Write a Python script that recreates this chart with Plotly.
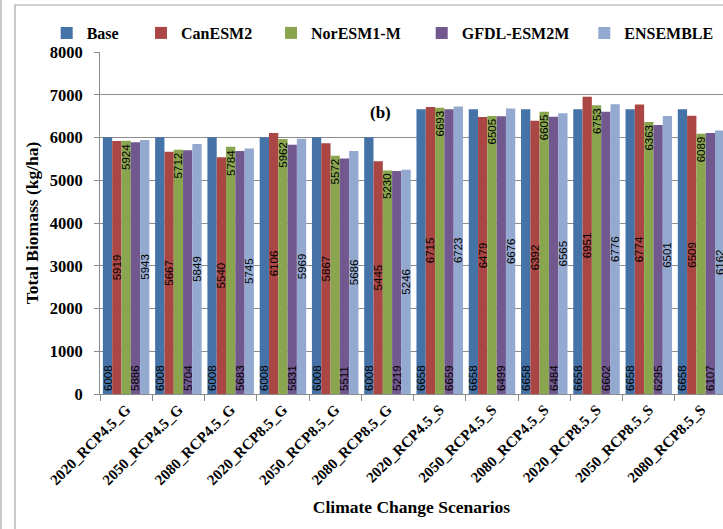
import plotly.graph_objects as go

# Scenario groups along the x axis
categories = [
    "2020_RCP4.5_G", "2050_RCP4.5_G", "2080_RCP4.5_G",
    "2020_RCP8.5_G", "2050_RCP8.5_G", "2080_RCP8.5_G",
    "2020_RCP4.5_S", "2050_RCP4.5_S", "2080_RCP4.5_S",
    "2020_RCP8.5_S", "2050_RCP8.5_S", "2080_RCP8.5_S",
]

# Total biomass (kg/ha) per model
base = [6008, 6008, 6008, 6008, 6008, 6008, 6658, 6658, 6658, 6658, 6658, 6658]
canesm2 = [5919, 5667, 5540, 6106, 5867, 5445, 6715, 6479, 6392, 6951, 6774, 6509]
noresm1_m = [5924, 5712, 5784, 5962, 5572, 5230, 6693, 6505, 6605, 6753, 6363, 6089]
gfdl_esm2m = [5886, 5704, 5683, 5831, 5511, 5219, 6659, 6499, 6484, 6602, 6295, 6107]
ensemble = [5943, 5849, 5745, 5969, 5686, 5246, 6723, 6676, 6565, 6776, 6501, 6162]

y_ticks = [0, 1000, 2000, 3000, 4000, 5000, 6000, 7000, 8000]

series = [
    ("Base", base, "#4572A7", "start", "legend"),
    ("CanESM2", canesm2, "#AA4643", "middle", "legend2"),
    ("NorESM1-M", noresm1_m, "#89A54E", "end", "legend3"),
    ("GFDL-ESM2M", gfdl_esm2m, "#71588F", "start", "legend4"),
    ("ENSEMBLE", ensemble, "#93A9CF", "middle", "legend5"),
]

SERIF = "Liberation Serif"
GRID = "#8C8C8C"

fig = go.Figure()
for name, vals, color, anchor, leg in series:
    fig.add_trace(go.Bar(
        name=name,
        x=categories,
        y=vals,
        marker=dict(color=color, line=dict(width=0)),
        text=[str(v) for v in vals],
        textposition="inside",
        insidetextanchor=anchor,
        textangle=-90,
        constraintext="none",
        insidetextfont=dict(family="Liberation Sans", size=11.5, color="black"),
        legend=leg,
        hoverinfo="skip",
    ))

# Plot area spans x 100..723 px, y 52..394 px
L, T, B, W, H = 100, 52, 135, 723, 529
pw = W - L
ph = H - T - B


def px_x(px):
    return (px - L) / pw


def px_y(py):
    return (H - B - py) / ph


legend_font = dict(family=SERIF, size=16, color="black", weight="bold")
square_left = [60.7, 155, 285, 435.7, 598.3]
legend_layout = {}
for i, sx in enumerate(square_left):
    key = "legend" if i == 0 else f"legend{i + 1}"
    legend_layout[key] = dict(
        orientation="h", x=px_x(sx - 14), xanchor="left",
        y=px_y(33), yanchor="middle", font=legend_font,
        bgcolor="rgba(0,0,0,0)", borderwidth=0,
    )

fig.update_layout(
    width=W, height=H,
    margin=dict(l=L, r=0, t=T, b=B),
    paper_bgcolor="white", plot_bgcolor="white",
    barmode="group", bargap=0.11, bargroupgap=0,
    showlegend=True,
    **legend_layout,
    xaxis=dict(
        type="category",
        range=[-0.5, 11.42],
        tickangle=-45,
        tickson="boundaries",
        ticks="outside", ticklen=6, tickcolor=GRID,
        showline=True, linecolor=GRID, linewidth=1,
        tickfont=dict(family=SERIF, size=15, color="black", weight="bold"),
        title=dict(text="Climate Change Scenarios",
                   font=dict(family=SERIF, size=17.5, color="black", weight="bold"),
                   standoff=13),
        showgrid=False,
    ),
    yaxis=dict(
        range=[0, 8000],
        tickvals=y_ticks,
        ticks="outside", ticklen=5, tickcolor=GRID,
        ticklabelstandoff=8,
        showline=True, linecolor=GRID, linewidth=1,
        showgrid=True, gridcolor=GRID, gridwidth=1,
        zeroline=False,
        tickfont=dict(family=SERIF, size=16.5, color="black", weight="bold"),
        title=dict(text="Total Biomass (kg/ha)",
                   font=dict(family=SERIF, size=17.5, color="black", weight="bold"),
                   standoff=6),
    ),
    annotations=[dict(
        text="(b)", x=px_x(380), y=px_y(101), xref="paper", yref="paper",
        showarrow=False, font=dict(family=SERIF, size=17, color="black", weight="bold"),
    )],
    shapes=[
        dict(type="rect", xref="paper", yref="paper",
             x0=px_x(15), x1=px_x(760), y0=px_y(560), y1=px_y(5),
             line=dict(color="#A6A6A6", width=1.2), layer="below"),
        dict(type="line", xref="paper", yref="paper",
             x0=px_x(1), x1=px_x(1), y0=px_y(560), y1=px_y(-20),
             line=dict(color="#A6A6A6", width=1.2), layer="below"),
    ],
)

fig.write_html("out.html")
